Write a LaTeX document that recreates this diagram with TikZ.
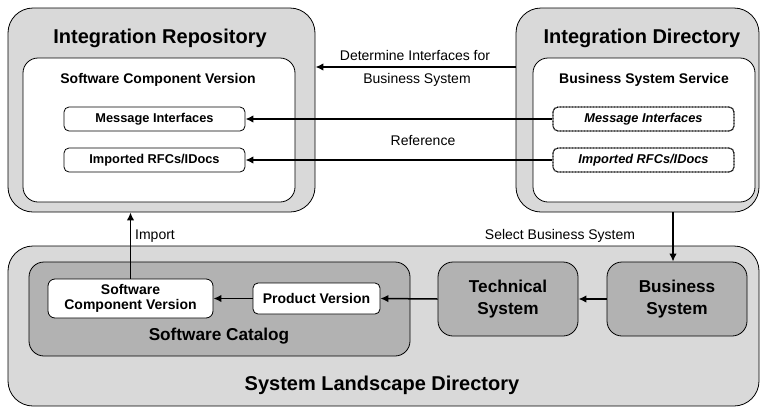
\documentclass[tikz,border=0pt]{standalone}
\usepackage{fontspec}
\setmainfont{Liberation Sans}
\usepackage{xcolor}
\usetikzlibrary{arrows.meta}

\definecolor{lightgrey}{RGB}{217,217,217}
\definecolor{darkgrey}{RGB}{178,178,178}

\begin{document}
\begin{tikzpicture}[x=1pt,y=-1pt]
    \tikzstyle{every node}=[inner sep=0pt, align=center]
    \tikzstyle{outerbox}=[draw, line width=0.8pt, fill=lightgrey, rounded corners=25pt]
    \tikzstyle{innerbox}=[draw, line width=0.8pt, fill=white, rounded corners=15pt]
    \tikzstyle{itembox}=[draw, line width=0.8pt, fill=white, rounded corners=5pt,
        font=\fontsize{12.8}{14}\selectfont\bfseries]
    \tikzstyle{refbox}=[itembox, line width=1.2pt, dash pattern=on 1pt off 0.5pt,
        font=\fontsize{12.8}{14}\selectfont\bfseries\itshape]
    \tikzstyle{bigfont}=[font=\fontsize{17.2}{21}\selectfont\bfseries]
    \tikzstyle{greybox}=[bigfont, draw, line width=0.8pt, fill=darkgrey, rounded corners=15pt]
    \tikzstyle{title}=[font=\fontsize{20}{24}\selectfont\bfseries]
    \tikzstyle{subtitle}=[font=\fontsize{14}{17}\selectfont\bfseries]
    \tikzstyle{lbl}=[font=\fontsize{14}{17}\selectfont]
    \tikzstyle{arr}=[line width=1.5pt, -{Latex[length=8pt,width=7.5pt]}]

    \useasboundingbox (0,0) rectangle (761,408);

    % Integration Repository
    \node[outerbox, minimum width=307pt, minimum height=204pt] (irbox) at (161.5,110) {};
    \node[title] (irtitle) at (160,38) {Integration Repository};
    \node[innerbox, minimum width=272pt, minimum height=144pt] (irscv) at (159,130) {};
    \node[subtitle] (irscvtitle) at (158,80) {Software Component Version};
    \node[itembox, minimum width=181pt, minimum height=24pt] (irmsg) at (154.5,119) {Message Interfaces};
    \node[itembox, minimum width=181pt, minimum height=24pt] (irrfc) at (154.5,160) {Imported RFCs/IDocs};

    % Integration Directory
    \node[outerbox, minimum width=243pt, minimum height=204pt] (idbox) at (637.5,110) {};
    \node[title] (idtitle) at (642,38) {Integration Directory};
    \node[innerbox, minimum width=222pt, minimum height=144pt] (idbss) at (644,130) {};
    \node[subtitle] (idbsstitle) at (644,80) {Business System Service};
    \node[refbox, minimum width=181pt, minimum height=24pt] (idmsg) at (643.5,119) {Message Interfaces};
    \node[refbox, minimum width=181pt, minimum height=24pt] (idrfc) at (643.5,160) {Imported RFCs/IDocs};

    % System Landscape Directory
    \node[outerbox, minimum width=751pt, minimum height=160pt] (sldbox) at (383.5,326) {};
    \node[title] (sldtitle) at (382,385) {System Landscape Directory};
    \node[greybox, minimum width=381pt, minimum height=94pt] (catbox) at (219.5,309) {};
    \node[bigfont] (cattitle) at (219,336) {Software Catalog};
    \node[itembox, subtitle, rounded corners=7pt, minimum width=165pt, minimum height=39pt] (bscv) at (130.5,298.5)
        {Software\\[-1.5pt]Component Version};
    \node[itembox, subtitle, minimum width=127pt, minimum height=31pt] (prodver) at (316.5,298.5) {Product Version};
    \node[greybox, minimum width=140pt, minimum height=74pt] (techsys) at (508,299) {Technical\\[1pt]System};
    \node[greybox, minimum width=140pt, minimum height=74pt] (bussys) at (677,299) {Business\\[1pt]System};

    % connectors
    \coordinate (det) at (417,67);
    \draw[arr] (idbox.west |- det) -- (irbox.east |- det);
    \node[lbl] (detlbl1) at (415,55) {Determine Interfaces for};
    \node[lbl] (detlbl2) at (417,80) {Business System};

    \draw[arr] (idmsg.west) -- (irmsg.east);
    \draw[arr] (idrfc.west) -- (irrfc.east);
    \node[lbl] (reflbl) at (423,140) {Reference};

    \draw[arr] (bscv.north) -- (bscv.north |- irbox.south);
    \node[lbl] (implbl) at (155,236) {Import};

    \coordinate (sel) at (673,0);
    \draw[arr] (idbox.south -| sel) -- (bussys.north -| sel);
    \node[lbl] (sellbl) at (560,236) {Select Business System};

    \draw[arr] (bussys.west) -- (techsys.east);
    \draw[arr] (techsys.west) -- (prodver.east);
    \draw[arr] (prodver.west) -- (bscv.east);
\end{tikzpicture}
\end{document}
